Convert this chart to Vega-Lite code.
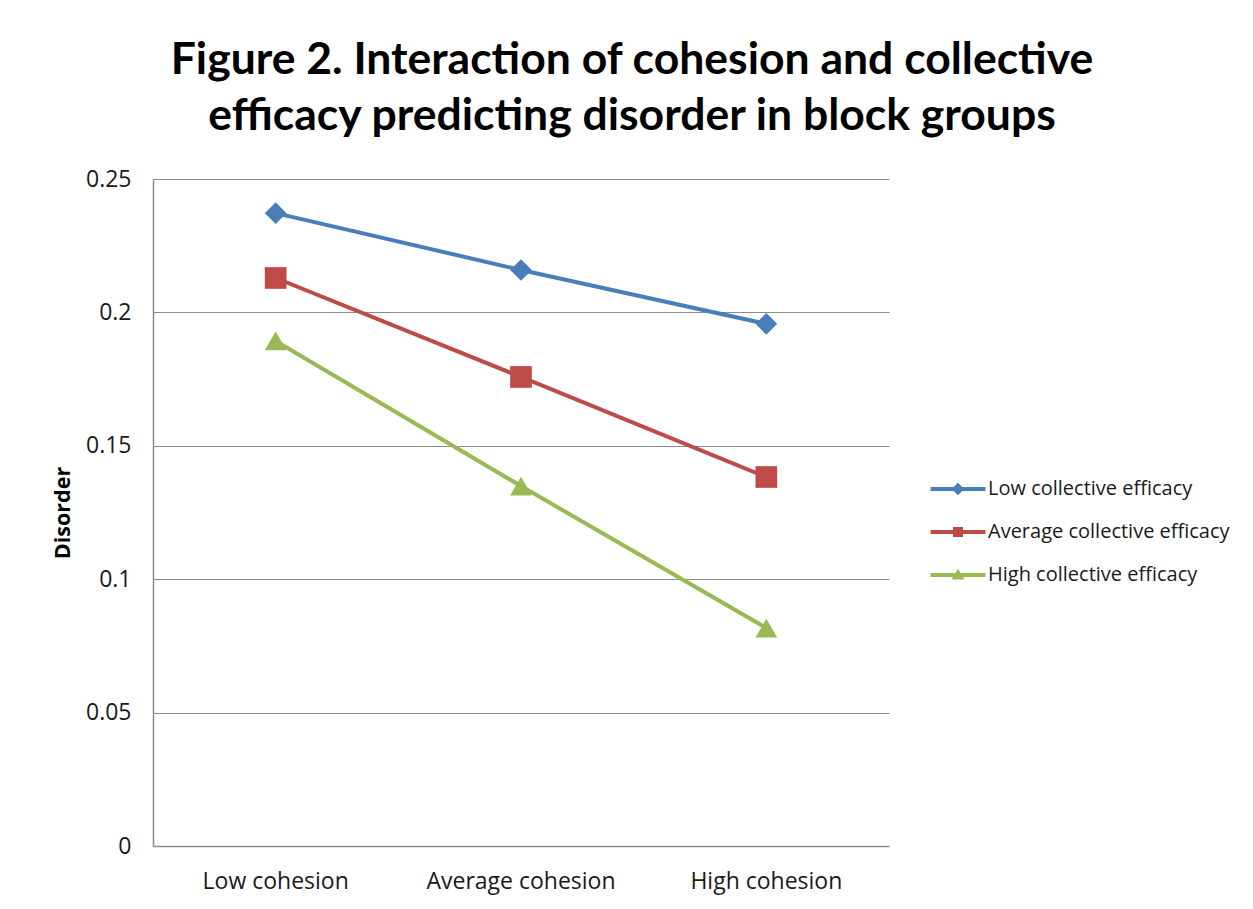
{
  "$schema": "https://vega.github.io/schema/vega-lite/v6.json",
  "width": 736,
  "height": 667,
  "autosize": "none",
  "padding": {"left": 153, "top": 179, "right": 364, "bottom": 63},
  "background": "white",
  "title": {
    "text": ["Figure 2. Interaction of cohesion and collective", "efficacy predicting disorder in block groups"],
    "font": "Lato",
    "fontSize": 44.5,
    "fontWeight": "bold",
    "color": "#000000",
    "lineHeight": 56,
    "anchor": "middle",
    "frame": "group",
    "dx": 111,
    "offset": 29
  },
  "data": {
    "values": [
      {"cohesion": "Low cohesion", "series": "Low collective efficacy", "disorder": 0.2372},
      {"cohesion": "Average cohesion", "series": "Low collective efficacy", "disorder": 0.2159},
      {"cohesion": "High cohesion", "series": "Low collective efficacy", "disorder": 0.1957},
      {"cohesion": "Low cohesion", "series": "Average collective efficacy", "disorder": 0.2129},
      {"cohesion": "Average cohesion", "series": "Average collective efficacy", "disorder": 0.1758},
      {"cohesion": "High cohesion", "series": "Average collective efficacy", "disorder": 0.1383},
      {"cohesion": "Low cohesion", "series": "High collective efficacy", "disorder": 0.1893},
      {"cohesion": "Average cohesion", "series": "High collective efficacy", "disorder": 0.1349},
      {"cohesion": "High cohesion", "series": "High collective efficacy", "disorder": 0.0817}
    ]
  },
  "encoding": {
    "x": {
      "field": "cohesion",
      "type": "nominal",
      "sort": ["Low cohesion", "Average cohesion", "High cohesion"],
      "scale": {"type": "band", "paddingInner": 0, "paddingOuter": 0},
      "axis": {
        "title": null,
        "labelAngle": 0,
        "labelFont": "Open Sans",
        "labelFontSize": 23,
        "labelColor": "#1a1a1a",
        "labelPadding": 24,
        "labelLimit": 400,
        "ticks": false,
        "domainColor": "#8c8c8c",
        "domainWidth": 1.5,
        "grid": false
      }
    },
    "y": {
      "field": "disorder",
      "type": "quantitative",
      "scale": {"domain": [0, 0.25], "nice": false, "zero": true},
      "axis": {
        "title": "Disorder",
        "titleFont": "Open Sans",
        "titleFontSize": 21.5,
        "titleFontWeight": "bold",
        "titleColor": "#000000",
        "titlePadding": 11,
        "values": [0, 0.05, 0.1, 0.15, 0.2, 0.25],
        "format": ".2~f",
        "labelFont": "Open Sans",
        "labelFontSize": 23,
        "labelColor": "#1a1a1a",
        "labelPadding": 22,
        "ticks": false,
        "domainColor": "#8c8c8c",
        "domainWidth": 1.5,
        "grid": true,
        "gridColor": "#8c8c8c",
        "gridWidth": 1.2
      }
    },
    "color": {
      "field": "series",
      "type": "nominal",
      "sort": ["Low collective efficacy", "Average collective efficacy", "High collective efficacy"],
      "scale": {"range": ["#4A7EBB", "#BE4B48", "#98B954"]},
      "legend": null
    }
  },
  "layer": [
    {
      "mark": {"type": "line", "strokeWidth": 4},
      "encoding": {}
    },
    {
      "mark": {"type": "point", "filled": true, "opacity": 1, "size": 470},
      "encoding": {
        "shape": {
          "field": "series",
          "type": "nominal",
          "sort": ["Low collective efficacy", "Average collective efficacy", "High collective efficacy"],
          "scale": {"range": ["diamond", "square", "triangle-up"]},
          "legend": null
        }
      }
    },
    {
      "mark": {"type": "point", "filled": true, "opacity": 0, "size": 1},
      "encoding": {
        "fill": {
          "field": "series",
          "type": "nominal",
          "sort": ["Low collective efficacy", "Average collective efficacy", "High collective efficacy"],
          "scale": {"range": ["#4A7EBB", "#BE4B48", "#98B954"]},
          "legend": {
            "title": null,
            "orient": "none",
            "legendX": 790,
            "legendY": 295,
            "padding": 0,
            "symbolSize": 900,
            "symbolStrokeWidth": 0,
            "symbolOpacity": 1,
            "rowPadding": 18,
            "labelOffset": 15,
            "labelFont": "Open Sans",
            "labelFontSize": 20,
            "labelColor": "#1a1a1a",
            "labelLimit": 400,
            "encode": {
              "symbols": {
                "update": {
                  "shape": {"signal": "datum.value === 'Low collective efficacy' ? 'M-1.83,-0.13H1.83V0.13H-1.83Z M0,-0.42L0.42,0L0,0.42L-0.42,0Z' : datum.value === 'Average collective efficacy' ? 'M-1.83,-0.13H1.83V0.13H-1.83Z M-0.33,-0.33H0.33V0.33H-0.33Z' : 'M-1.83,-0.13H1.83V0.13H-1.83Z M0,-0.42L0.42,0.3H-0.42Z'"},
                  "opacity": {"value": 1},
                  "fillOpacity": {"value": 1}
                }
              }
            }
          }
        }
      }
    }
  ],
  "config": {
    "view": {"stroke": null}
  }
}
